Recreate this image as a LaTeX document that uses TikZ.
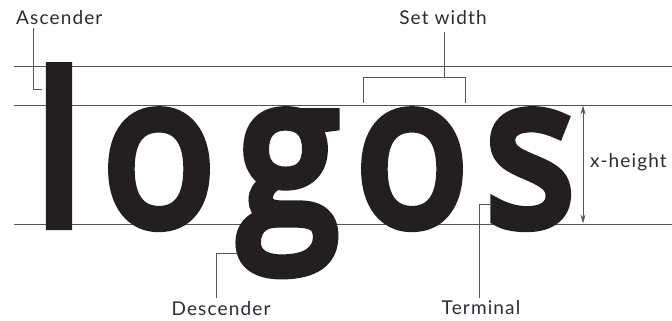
\documentclass[tikz,border=0pt]{standalone}
\usepackage{fontspec}
\setmainfont{Open Sans}
\newfontfamily\wordfont[FakeBold=6]{Open Sans}
\newfontfamily\labelfont[LetterSpace=6]{Lato}
\usetikzlibrary{arrows.meta}
\definecolor{ink}{HTML}{231F20}
\definecolor{rulec}{HTML}{555555}
\definecolor{lbl}{HTML}{2B2B35}
\newcommand{\narrowglyph}[1]{\scalebox{0.9}[1]{#1}}
\begin{document}
\begin{tikzpicture}[x=1pt,y=-1pt,
  guide/.style={draw=rulec, line width=0.8pt},
  lead/.style={draw=rulec, line width=0.8pt},
  lab/.style={font=\labelfont\fontsize{19}{19}\selectfont, text=lbl, inner sep=0},
  glyph/.style={font=\wordfont\mdseries\fontsize{205}{205}\selectfont, text=ink, inner sep=0, anchor=base}]
\useasboundingbox (0,0) rectangle (672,321);
% guide lines
\coordinate (ascL) at (14,66);  \coordinate (ascR) at (672,66);
\coordinate (xL) at (14,105);   \coordinate (xR) at (672,105);
\coordinate (bL) at (14,224);   \coordinate (bR) at (672,224);
\draw[guide] (ascL) -- (ascR);
\draw[guide] (xL) -- (xR);
\draw[guide] (bL) -- (bR);
% word
\node[glyph] (gl) at (59,224) {\narrowglyph{l}};
\node[glyph] (go1) at (159,224) {\narrowglyph{o}};
\node[glyph] (gg) at (288,224) {\narrowglyph{g}};
\node[glyph] (go2) at (412,224) {\narrowglyph{o}};
\node[glyph] (gs) at (530,224) {\narrowglyph{s}};
% labels
\node[lab, anchor=west] (asc) at (16,18) {Ascender};
\node[lab] (setw) at (443,18) {Set width};
\node[lab, anchor=west] (xh) at (590,162) {x-height};
\node[lab] (desc) at (221,309) {Descender};
\node[lab] (term) at (481,308) {Terminal};
% ascender leader
\coordinate (ascA) at (33,28); \coordinate (ascB) at (33,89); \coordinate (ascC) at (42,89);
\draw[lead] (ascA) -- (ascB) -- (ascC);
% set width bracket
\coordinate (swL) at (363,103); \coordinate (swR) at (465,103);
\coordinate (swLt) at (363,77); \coordinate (swRt) at (465,77);
\coordinate (swS) at (444,77); \coordinate (swT) at (444,32);
\draw[lead] (swL) -- (swLt) -- (swRt) -- (swR);
\draw[lead] (swS) -- (swT);
% x-height arrow
\coordinate (xhT) at (583,105.5); \coordinate (xhB) at (583,223.5);
\draw[lead, {Stealth[length=9pt,width=5pt]}-{Stealth[length=9pt,width=5pt]}] (xhT) -- (xhB);
% descender leader
\coordinate (dA) at (238,253); \coordinate (dB) at (216,253); \coordinate (dC) at (216,298);
\draw[lead] (dA) -- (dB) -- (dC);
% terminal leader
\coordinate (tA) at (492,204); \coordinate (tB) at (479,204); \coordinate (tC) at (479,298);
\draw[lead] (tA) -- (tB) -- (tC);
\end{tikzpicture}
\end{document}
